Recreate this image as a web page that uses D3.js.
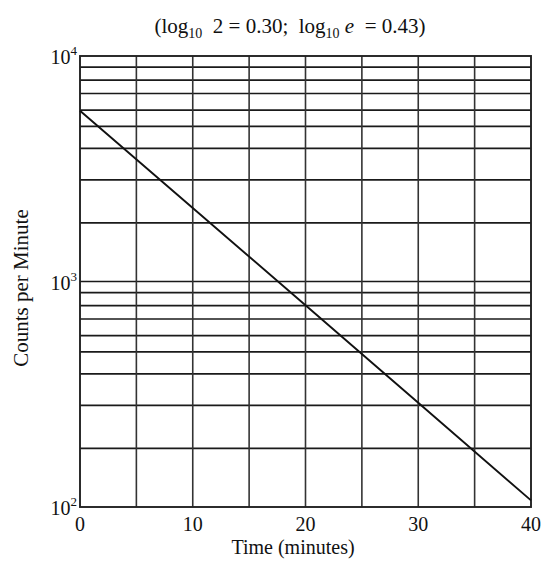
<!DOCTYPE html>
<html><head><meta charset="utf-8">
<script src="https://cdn.jsdelivr.net/npm/d3@7"></script>
<style>body{margin:0;background:#fff}svg{display:block}text{font-family:"Liberation Serif","Times New Roman",serif;fill:#111}</style>
</head><body>
<script>
const times = [0, 10, 20, 30, 40];
const counts = [5720, 2120, 784, 290, 107];
const xTicks = [0, 10, 20, 30, 40];
const xGrid = [5, 10, 15, 20, 25, 30, 35];
// horizontal rulings as drawn on the reference paper
const yGrid = [182, 282, 389, 487, 575, 682, 782, 893, 1000,
               1820, 2820, 3890, 4870, 5750, 6820, 7820, 8930];
const yDecades = [100, 1000, 10000];
const yDecadeExp = ["2", "3", "4"];

const W = 544, H = 565;
const m = {l:80, r:13, t:56, b:58};
const svg = d3.select("body").append("svg").attr("width", W).attr("height", H);
const x = d3.scaleLinear().domain([0,40]).range([m.l, W-m.r]);
const y = d3.scaleLog().domain([100,10000]).range([H-m.b, m.t]);

const g = svg.append("g");
g.selectAll(".hg").data(yGrid).enter().append("line")
  .attr("x1", x(0)).attr("x2", x(40)).attr("y1", d=>y(d)).attr("y2", d=>y(d))
  .attr("stroke", "#1a1a1a").attr("stroke-width", 1.7);
g.selectAll(".vg").data(xGrid).enter().append("line")
  .attr("y1", y(100)).attr("y2", y(10000)).attr("x1", d=>x(d)).attr("x2", d=>x(d))
  .attr("stroke", "#333").attr("stroke-width", 1.6);
g.append("rect").attr("x", x(0)).attr("y", y(10000)).attr("width", x(40)-x(0)).attr("height", y(100)-y(10000))
  .attr("fill", "none").attr("stroke", "#222").attr("stroke-width", 1.9);

const line = d3.line().x((d,i)=>x(times[i])).y(d=>y(d));
g.append("path").datum(counts).attr("d", line).attr("fill","none").attr("stroke","#111").attr("stroke-width",1.9);

// x tick labels
svg.selectAll(".xt").data(xTicks).enter().append("text")
  .attr("x", d=>x(d)).attr("y", y(100)+24).attr("text-anchor","middle")
  .style("font-size","20px").text(d=>d);

// y decade labels
yDecades.forEach((d,i)=>{
  const t = svg.append("text").attr("x", x(0)-3).attr("y", y(d)+8).attr("text-anchor","end").style("font-size","20px");
  t.append("tspan").text("10");
  t.append("tspan").attr("dy",-9).style("font-size","13px").text(yDecadeExp[i]);
});

svg.append("text").attr("x", 293).attr("y", 554).attr("text-anchor","middle").style("font-size","20px").text("Time (minutes)");
svg.append("text").attr("transform","translate(28,288) rotate(-90)").attr("text-anchor","middle").style("font-size","21px").text("Counts per Minute");

const title = svg.append("text").attr("x", 290).attr("y", 33).attr("text-anchor","middle").style("font-size","21px");
title.append("tspan").text("(log");
title.append("tspan").attr("dy",5).style("font-size","14px").text("10");
title.append("tspan").attr("dy",-5).text("\u00a0 2\u00a0=\u00a00.30;\u00a0 log");
title.append("tspan").attr("dy",5).style("font-size","14px").text("10");
title.append("tspan").attr("dy",-5).text("\u00a0");
title.append("tspan").style("font-style","italic").text("e");
title.append("tspan").text("\u00a0 =\u00a00.43)");
</script>
</body></html>
